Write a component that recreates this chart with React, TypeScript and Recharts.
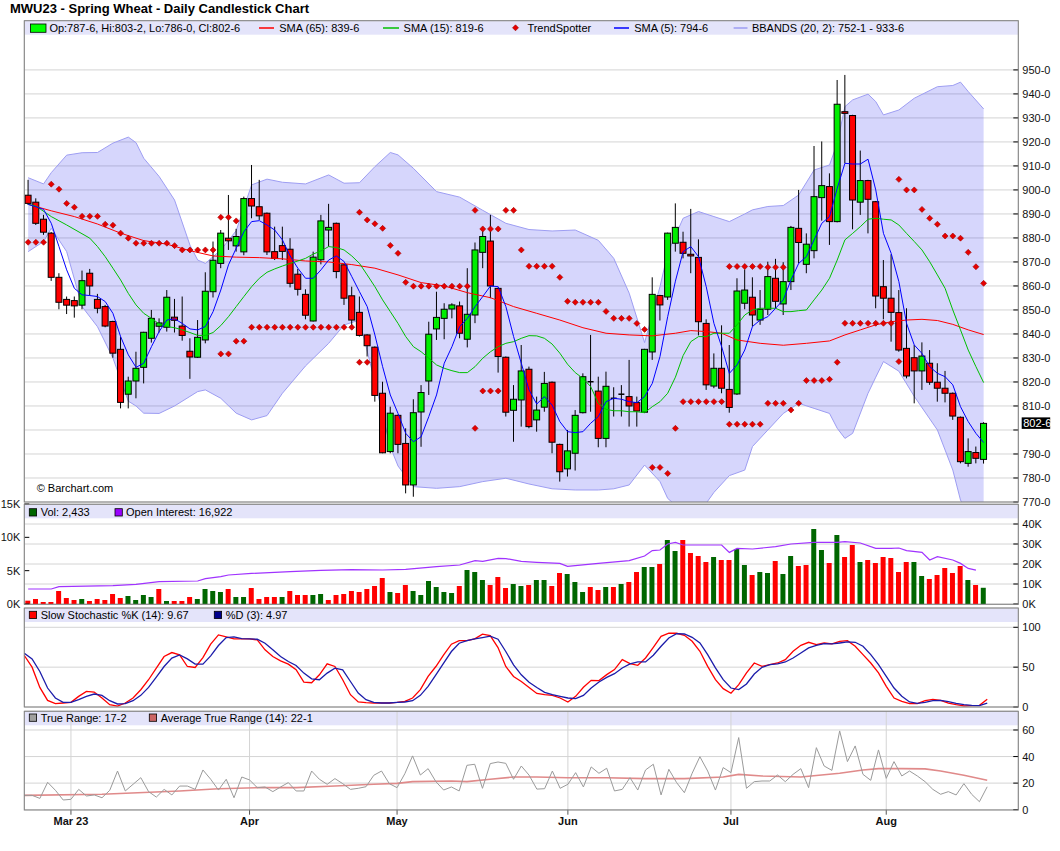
import React from 'react';
import { ComposedChart, Bar, Line, Area, XAxis, YAxis, CartesianGrid, ReferenceLine, Cell } from 'recharts';

const FONT = '"Liberation Sans", Arial, Helvetica, sans-serif';
const W = 1060;
const PLOT_L = 24.3;
const PLOT_R = 1018.3;
const AXIS_W = W - PLOT_R;

// ---------- categories / ticks ----------
const monthTicks = [6, 29, 48, 70, 91, 111];
const monthLabels = ['Mar 23', 'Apr', 'May', 'Jun', 'Jul', 'Aug'];
const priceTicks = [770, 780, 790, 800, 810, 820, 830, 840, 850, 860, 870, 880, 890, 900, 910, 920, 930, 940, 950];
const volTicks = [0, 5000, 10000, 15000];
const oiTicks = [0, 10000, 20000, 30000, 40000];
const stochTicks = [0, 50, 100];
const trTicks = [0, 20, 40, 60];
const lastClose = 802.75;

// ---------- OHLC ----------
const openP = [
  897.8, 894.9, 887.8, 882, 863.6, 854.4, 853.9, 852, 865.3, 854.4,
  851.4, 845.2, 833.6, 814.9, 820.4, 826.1, 838.2, 843.2, 842.8, 847,
  843.3, 832.8, 830.3, 837.5, 857.6, 869.4, 879.9, 876.7, 874.2, 896.4,
  893, 890.3, 874.3, 876.8, 875.3, 864.9, 856.5, 845.4, 870.9, 883.3,
  886.1, 868.8, 855.9, 849, 839.6, 834.5, 815.3, 791, 806.1, 794.4,
  777.1, 807.5, 820.4, 842.1, 846.5, 850.4, 851.7, 837.8, 847.9, 874,
  878.7, 859, 830.3, 808.2, 812.5, 825.3, 804.2, 809.5, 819.9, 794,
  783.8, 790.3, 807.2, 820.1, 816.2, 796.5, 813.2, 814.9, 813.9, 811.4,
  807.4, 832.5, 856, 855.4, 877.8, 878.2, 873.2, 871.9, 844.4, 818.3,
  825.7, 816.9, 815, 852.8, 855.3, 845.8, 850.3, 863.2, 852.5, 861.8,
  884, 869, 874.7, 896.8, 901.4, 886.8, 932.6, 931, 894.9, 903.9,
  895.1, 859.7, 854.9, 848.9, 834, 830.1, 824.6, 827.8, 819.9, 817.4,
  815.3, 805.3, 786.1, 790.6, 787.75,
];
const highP = [
  904.2, 896.5, 889.6, 882.5, 865.3, 855.6, 855.6, 866.4, 867.1, 856.7,
  852.1, 845.5, 838.9, 822.2, 832.6, 840.9, 850, 846.5, 858.3, 854.6,
  855.6, 838.2, 845.8, 865.7, 878.5, 883.3, 897.9, 883.8, 897.2, 910.4,
  904.2, 890.6, 884.7, 884.7, 879.9, 867.1, 858.6, 874.3, 889.6, 894.2,
  886.4, 869.1, 859.7, 855.6, 839.9, 834.8, 820.1, 809.7, 806.4, 800.7,
  812.8, 818.7, 845.1, 857.6, 852.8, 852.8, 853.5, 867.4, 878.1, 883.3,
  889.6, 859.3, 830.6, 818.7, 835.4, 826.4, 813.9, 824.2, 820.2, 794.3,
  800, 808.3, 823.6, 839.6, 822.2, 824.3, 817.8, 818.7, 829.2, 813.9,
  833.8, 863.6, 856.3, 882.2, 894.4, 882.6, 892.1, 879.4, 846.1, 831.9,
  843.6, 835.4, 863.2, 866.9, 863.6, 858.3, 870.1, 871.3, 869.9, 885,
  900, 881.9, 918.3, 920.2, 906.9, 945.8, 947.9, 931.3, 916.4, 904.2,
  895.4, 870.8, 873.2, 858.3, 850.7, 835.4, 836.5, 833.3, 827.8, 824.6,
  815.6, 805.6, 796.5, 793.1, 803.25,
];
const lowP = [
  893.7, 885.4, 881.3, 862.1, 850.3, 848.3, 846.8, 850.3, 856, 848.6,
  842.8, 830.1, 809, 809, 813.2, 819.4, 836.4, 840.6, 841, 840.6,
  837.2, 821.3, 830, 836.1, 855.2, 867.4, 875, 874.3, 872.8, 888.2,
  887.5, 872.9, 870.8, 870.8, 859.4, 856, 846.1, 845.2, 869, 876.4,
  863.2, 852.1, 842.4, 838.9, 830.6, 811.8, 790.3, 790.3, 790.3, 773.6,
  772.2, 793, 814.6, 837.5, 837.8, 846.5, 838.2, 834.4, 844.5, 867.4,
  854.9, 823.9, 805.6, 795.1, 801.4, 800.7, 799.3, 807.6, 790.3, 778.5,
  780.6, 783.1, 806.9, 807.6, 792.8, 792.8, 805.6, 805.6, 801.4, 801.4,
  807.2, 829.2, 845.6, 854.2, 874.3, 871.5, 865.3, 839.4, 816.7, 817.4,
  815.3, 807.2, 814.6, 850.3, 843.1, 843.8, 847.9, 850.7, 847.9, 858.3,
  869.4, 865.3, 871.5, 887.2, 877.1, 886.5, 911.1, 883.6, 889.6, 881.9,
  850.7, 846.1, 836.8, 832.6, 821.5, 811.1, 816.7, 818.8, 811.8, 811.5,
  804.2, 786.1, 784.7, 786.1, 786,
];
const closeP = [
  894.4, 886.1, 882.4, 863.6, 853.2, 852, 851.7, 862.2, 860, 850.7,
  843.3, 832, 811.5, 820.4, 825.7, 840.7, 846.5, 844.6, 855.3, 845.7,
  839.4, 830.4, 838.6, 857.8, 870.7, 882, 878.8, 880.6, 896.4, 893.3,
  889.2, 874.2, 871.5, 874.4, 861.1, 858.6, 847.8, 872, 887.1, 884.4,
  866, 854.9, 845.8, 839.4, 835.1, 814.4, 790.5, 807, 794, 777.1,
  807.2, 815.6, 839.9, 846.9, 850.3, 852.1, 840.3, 848.2, 875, 880.6,
  860, 830.6, 807.4, 812.8, 824.6, 801.4, 808.3, 819.4, 794.9, 782.6,
  791.3, 806.1, 822.2, 820.1, 796.5, 818.2, 813.2, 814.9, 810, 807.9,
  833.6, 856.5, 852.1, 882, 884.4, 873.6, 872.5, 845.1, 818.8, 825.7,
  817.4, 809.4, 857.9, 858.3, 847.9, 850.3, 863.9, 853.6, 861.8, 884.4,
  878.1, 877.4, 897.2, 901.8, 886.8, 935.7, 931.9, 895.8, 903.9, 896.1,
  855.8, 854.9, 849, 833.3, 822.5, 824.6, 830.8, 819.9, 817.4, 815.3,
  805.8, 786.8, 791, 788.2, 802.75,
];

// ---------- moving averages ----------
const sma5 = [
  894, 893, 891.9, 886.1, 876.4, 866.7, 859, 856.3, 856, 855.6,
  853.5, 848.6, 838.9, 831.3, 826.1, 827.8, 834.7, 841, 845.8, 846.3,
  844.4, 842.1, 841.7, 843.1, 849.3, 858.3, 868.8, 875.7, 882.6, 886.8,
  887.2, 885.4, 883.3, 879.2, 872.5, 867.4, 863.2, 863.2, 866.7, 870.8,
  872.5, 870.2, 863.9, 857.6, 851.4, 839.6, 826.4, 814.6, 806.9, 798.6,
  795.1, 797.2, 805.6, 814.6, 827.8, 834.7, 843.1, 846.5, 851.4, 855.6,
  860, 859.7, 851.4, 838.9, 827.8, 816.7, 810.8, 813.9, 810.4, 803.5,
  799.3, 798.9, 799.3, 802.8, 805.6, 811.8, 813.2, 812.8, 811.8, 811.4,
  813.9, 819.4, 830.6, 847.2, 862, 874.3, 876.4, 872.2, 859.7, 844.4,
  834.7, 823.6, 827.1, 833.3, 843.1, 845.8, 847.2, 850.7, 854.2, 862.5,
  869.4, 872.2, 879.2, 886.1, 888.9, 900.7, 911.1, 910.8, 910.8, 912.8,
  900, 881.9, 873.6, 861.8, 844.4, 835.4, 831.9, 826.4, 823.6, 822.2,
  818.8, 809.7, 803.5, 798.6, 794.75,
];
const sma15Pts = [
  [0, 894], [1, 893.3], [3, 888.9], [5, 885.4], [8, 879.9], [9, 876.4], [10, 872.2], [11, 867.4], [12, 862.5],
  [13, 856.9], [14, 852.1], [15, 848.6], [16, 846.5], [17, 844.2], [18, 843.1], [19, 842.6], [20, 841.7],
  [21, 840.6], [22, 839.4], [23, 839.4], [24, 840.6], [25, 843.5], [26, 847.2], [27, 851.4], [28, 855.6],
  [29, 859.7], [30, 863.2], [31, 865.7], [32, 867.1], [33, 868.3], [34, 869.4], [35, 870.4], [36, 871.5],
  [37, 873.3], [38, 874.6], [39, 876.4], [40, 876], [41, 875], [42, 872.5], [43, 869.4], [44, 864.6],
  [45, 859.7], [46, 854.2], [47, 849.3], [48, 844.4], [49, 838.9], [50, 834.7], [51, 832.6], [52, 829.9],
  [53, 827.1], [54, 825.7], [55, 824.7], [56, 823.9], [57, 823.9], [58, 826.4], [59, 829.9], [60, 832.6],
  [61, 834.7], [62, 836.1], [63, 836.8], [64, 838.2], [65, 839.3], [66, 839.2], [67, 838.2], [68, 835.8],
  [69, 832], [70, 827.4], [71, 823.9], [72, 821.5], [73, 818.1], [74, 811.1], [75, 808.6], [76, 808],
  [77, 808], [78, 807.6], [79, 807.6], [80, 807.2], [81, 809.7], [82, 811.8], [83, 815.3], [84, 822],
  [85, 831], [86, 836.8], [87, 838.9], [88, 838.9], [89, 840.3], [90, 840.3], [91, 840.3], [92, 843.8],
  [93, 847.9], [94, 850], [95, 850.7], [96, 850.7], [97, 850.7], [98, 849.3], [99, 849.3], [100, 849.7],
  [101, 850], [102, 854.2], [103, 858.3], [104, 863.2], [105, 870.8], [106, 879.2], [107, 881.9], [108, 884.7],
  [109, 887.8], [110, 888.2], [111, 887.8], [112, 887.5], [113, 885.4], [114, 881.9], [115, 878.5], [116, 875],
  [117, 870.1], [118, 864.6], [119, 859], [120, 850], [121, 841.7], [122, 833.3], [123, 826.4], [124, 819.75],
];
const sma65Pts = [
  [0, 894], [3, 891.3], [6, 888.9], [9, 885.8], [12, 882], [15, 878.9], [18, 877.4], [21, 874.7], [24, 872.5],
  [27, 872], [30, 871.8], [33, 871.3], [36, 870.4], [39, 870], [42, 868.9], [45, 867.4], [48, 864.6], [51, 861.4],
  [54, 860], [57, 857.2], [60, 855.1], [63, 851.4], [66, 848.6], [69, 845.8], [72, 842.6], [75, 840.3], [78, 839.6],
  [81, 839.2], [84, 840.3], [86, 841.4], [88, 841], [90, 840.3], [92, 837.5], [95, 836.1], [98, 835.3], [101, 836.1],
  [104, 837.1], [106, 839.6], [108, 841.7], [110, 843.8], [112, 845.1], [114, 845.8], [116, 846.1], [118, 845.6],
  [120, 844], [122, 841.7], [124, 839.75],
];
// Bollinger bands: [index, lower, upper]
const bbPts = [
  [0, 874.3, 905.1], [2, 878.5, 902.5], [3, 884, 907.2], [5, 874.3, 914.5], [7, 851.4, 915.5], [9, 843, 915.6],
  [11, 830, 919.5], [13, 812, 922], [14, 810, 919.7], [15, 807, 913.2], [17, 806.9, 905.6], [19, 810, 895.8],
  [21, 814, 877], [22, 816, 870.8], [23, 816.7, 869.4], [25, 813.2, 875], [27, 807, 883], [29, 804.2, 902.1],
  [31, 806, 904.5], [33, 815.3, 903.2], [36, 826.7, 902.5],
  [39, 836.1, 906.25], [41, 843.75, 902.8], [43, 845.8, 903], [45, 820, 909.7], [47, 793, 915.6], [48, 785, 914.6],
  [50, 776.4, 909], [53, 775.7, 899.3], [56, 776.4, 897], [59, 778.5, 891.5], [62, 779.9, 886.1], [65, 777.5, 883.5],
  [68, 775.5, 882.9], [71, 775, 883.3], [74, 775, 879], [76, 775.5, 871.5], [78, 777.1, 857], [80, 785.4, 836.4],
  [82, 778.5, 859.7], [83, 771.5, 873.6], [85, 766, 888.2], [87, 765, 891], [89, 774, 888.9], [91, 781, 886.8],
  [93, 783.3, 890], [94, 793.1, 891.7], [96, 800, 893.1], [98, 806.9, 893.5], [100, 811.1, 897.9], [102, 809, 908.3],
  [104, 806.9, 910.4], [105, 800.7, 919.4], [106, 796.5, 934.7], [107, 798.6, 937.5], [109, 815.3, 939.9],
  [110, 822, 936.8], [111, 828.5, 931.25], [113, 824.5, 933.3], [115, 814, 938.2], [118, 800, 943], [120, 783.3, 943.5],
  [121, 770.8, 944.9], [122, 765, 941], [124, 752.1, 933.75],
];
// TrendSpotter markers
const tsMainPts = [
  [0, 878.2], [1, 878.2], [2, 878.2], [3, 902.4], [4, 900.3], [5, 894.4], [6, 892.8], [7, 889], [8, 889], [9, 889],
  [10, 885.7], [11, 885.3], [12, 882], [13, 879.9], [14, 877.8], [15, 877.8], [16, 877.8], [17, 877.8], [18, 877.8],
  [19, 876.8], [20, 875], [21, 875], [22, 875], [23, 875], [24, 875], [25, 888.6], [26, 888.6], [27, 887.1],
  [29, 842.8], [30, 842.8], [31, 842.8], [32, 842.8], [33, 842.8], [34, 842.8], [35, 842.8], [36, 842.8],
  [37, 842.8], [38, 842.8], [39, 842.8], [40, 842.8], [41, 842.8], [42, 842.8],
  [43, 890.7], [44, 887.5], [45, 885.9], [46, 884], [47, 876.9], [48, 873.6], [49, 861.5],
  [50, 859.9], [51, 859.9], [52, 859.9], [53, 859.9], [54, 859.9], [55, 859.9], [56, 859.9], [57, 859.9],
  [58, 891.5], [59, 883.75], [60, 883.75], [61, 883.75], [62, 891.5], [63, 891.5], [64, 875],
  [65, 868.2], [66, 868.2], [67, 868.2], [68, 868.2], [69, 863.6], [70, 853.6], [71, 853.2], [72, 853.2],
  [73, 853.2], [74, 853.2], [75, 849.4], [76, 846.5], [77, 846.5], [78, 846.5], [79, 844.4], [80, 841.9],
  [81, 784.4], [82, 784.4], [83, 781.9], [84, 800.7], [85, 811.8], [86, 811.8], [87, 811.8], [88, 811.8],
  [89, 811.8], [90, 811.8], [91, 868.1], [92, 868.1], [93, 868.1], [94, 868.1], [95, 868.1], [96, 867.8],
  [97, 867.8], [98, 867.8], [99, 808.3], [100, 811.1], [101, 820.6], [102, 820.6], [103, 820.6], [104, 821.1],
  [105, 828.2], [106, 844.45], [107, 844.45], [108, 844.45], [109, 844.45], [110, 844.45], [111, 844.45],
  [112, 844.45], [113, 904.4], [114, 900], [115, 900], [116, 891.9], [117, 888.2], [118, 885.7], [119, 880.8],
  [120, 880.8], [121, 879.9], [122, 874], [123, 868], [124, 861.1],
];
const tsAltPts = [
  [25, 831.7], [26, 831.7], [27, 837], [28, 837], [43, 828.2], [44, 828.2], [58, 800.7], [59, 816.25],
  [60, 816.25], [61, 816.25], [91, 802.4], [92, 802.4], [93, 802.4], [94, 802.4], [95, 802.4], [96, 811.1],
  [97, 811.1], [98, 811.1], [113, 828.5],
];

// ---------- volume / open interest ----------
const volK = [
  0.5, 0.75, 0.3, 0.3, 1.95, 0.9, 0.6, 0.75, 0.45, 0.75,
  0.6, 1.5, 0.9, 1.2, 0.6, 1.35, 1.05, 2.25, 0.45, 0.45,
  0.45, 1.05, 0.75, 2.25, 1.95, 1.8, 2.25, 1.05, 1.05, 2.4,
  0.75, 1.05, 1.05, 1.05, 1.95, 1.35, 1.35, 1.35, 1.5, 0.6,
  1.35, 1.5, 1.95, 1.8, 2.25, 2.7, 3.9, 1.8, 1.65, 2.85,
  1.95, 1.35, 3.45, 2.55, 1.8, 1.65, 2.7, 5.1, 4.8, 3.6,
  2.85, 4.05, 2.4, 3.0, 2.7, 2.85, 3.6, 3.6, 2.7, 4.65,
  4.5, 3.3, 1.8, 2.55, 2.1, 2.55, 2.55, 3.0, 3.3, 4.8,
  5.55, 5.55, 6.0, 9.6, 7.95, 9.6, 7.65, 7.2, 6.3, 7.05,
  6.6, 6.6, 8.25, 5.85, 4.35, 4.8, 4.65, 6.45, 4.5, 7.2,
  5.7, 5.85, 11.25, 8.1, 6.15, 10.35, 7.05, 8.85, 6.3, 6.6,
  6.15, 7.05, 6.9, 4.8, 6.3, 6.3, 4.2, 3.75, 4.35, 5.4,
  4.65, 5.7, 3.6, 2.85, 2.433,
];
const volDir = (
  'dddddddudd' + 'ddduuuudud' + 'dduuuuduud' + 'ddduddduud' + 'dddddddudd' +
  'uuuuuuduuu' + 'ddduuduudd' + 'uuuddududd' + 'uuduuddddu' + 'dduuduuduu' +
  'dduududdud' + 'ddddduuddd' + 'ddudu'
).split('');
const oiPts = [
  [0, 7.5], [3, 7.5], [4, 8.7], [11, 9.2], [14, 9.8], [17, 11.2], [22, 11.5], [23, 12.7], [25, 13.7], [26, 14.5],
  [29, 15.3], [34, 16.2], [38, 16.8], [42, 17.2], [46, 17], [49, 17.3], [53, 18.7], [56, 19.5], [58, 21.7], [59, 21.3],
  [61, 22.8], [62, 22.7], [64, 21.3], [66, 20.8], [69, 20.3], [70, 18.8], [74, 20.3], [78, 21.7], [80, 24], [81, 26.7],
  [82, 27], [83, 30], [84, 30.8], [85, 29.5], [90, 29.5], [91, 25.8], [92, 27.8], [94, 27.5], [97, 28.7], [99, 30],
  [102, 30.8], [105, 30.8], [106, 31.2], [108, 30.5], [110, 27.8], [112, 27.8], [113, 28], [114, 26.7], [116, 25.8],
  [117, 22], [118, 23.7], [120, 22], [121, 20.3], [122, 17.8], [123, 16.922],
];

// ---------- slow stochastic ----------
const stochK = [
  64.6, 50, 24.6, 8.3, 4.2, 5, 5.8, 13.3, 19.6, 18.8,
  11.3, 2.9, 1.2, 5, 11.3, 21.7, 34.2, 48.8, 63.3, 68.3,
  65.4, 50.8, 49.6, 62, 78.8, 90.4, 87.9, 85.4, 85.4, 85.4,
  84.2, 71.7, 63.3, 57.9, 53.8, 46.7, 31.3, 30.4, 40.4, 54.2,
  50.8, 34.2, 15.4, 6.3, 5.4, 5, 5, 5, 5.8, 7.1,
  11.3, 21.7, 38.3, 50.8, 65.4, 78.8, 83.3, 83.3, 85.4, 91.3,
  89.6, 74.6, 50.8, 38.3, 32, 24.5, 17, 15.5, 14.6, 11.3,
  6.3, 13.4, 24.7, 33.5, 33.1, 40.6, 46.9, 59.4, 54.4, 52.3,
  61.5, 74.9, 88.7, 92.5, 92.5, 90, 82.4, 69.9, 51, 34.3,
  23, 17.2, 28, 42.7, 55.2, 51, 53.1, 55.2, 59.4, 69.9,
  77.4, 81.2, 78.2, 80.3, 79.1, 82.4, 83.3, 76.2, 65.7, 55.2,
  42.7, 25.9, 11.3, 7.1, 4.2, 4.2, 7.9, 9.6, 8.4, 5,
  2.9, 1.3, 1.7, 2.1, 9.67,
];
const stochD = [
  67.5, 60.4, 44.6, 23.8, 11.3, 5.8, 5.8, 9.2, 13.3, 16.3,
  14.6, 7.9, 3.8, 4.2, 7.9, 14.6, 24.6, 37.5, 50.8, 61.3,
  65.4, 60.4, 53.8, 53.8, 64.2, 77.1, 87.1, 87.9, 85.8, 85.4,
  85, 80, 71.7, 63.3, 57.1, 52.1, 42.5, 35.4, 34.2, 42.5,
  48.8, 46.7, 32, 17.5, 9.2, 5.8, 5, 5, 5.8, 6.3,
  7.9, 14.6, 25.8, 40.4, 55, 69.6, 80, 83.3, 85.4, 87.1,
  88.8, 85, 69.6, 52.9, 40.4, 31, 24.5, 18.4, 15.5, 13.4,
  11.3, 10.5, 14.6, 23.8, 31.4, 37.2, 41.8, 49, 54, 56.5,
  56.5, 64.9, 76.2, 86.6, 92, 91.6, 87.4, 80.3, 65.7, 49,
  34.3, 23.8, 21.8, 28.9, 41.4, 49.8, 53.1, 54, 56.5, 61.5,
  67.8, 74.1, 77.4, 79.5, 79.1, 80.3, 81.6, 81.2, 76.2, 65.7,
  53.1, 38.5, 23.8, 13.4, 6.3, 4.6, 5.9, 7.9, 8.4, 6.7,
  4.6, 2.9, 2.1, 1.7, 4.97,
];

// ---------- true range ----------
const trueRange = [
  10.8, 10.8, 8.5, 20.6, 14.6, 7.3, 7.8, 15.3, 10.3, 11.1,
  9, 14.6, 29.1, 14.1, 19.1, 24.1, 13.6, 9.5, 15.3, 11.1,
  17.8, 17.8, 15.3, 29.9, 22.9, 14.8, 22.9, 9, 24.6, 22.4,
  16.6, 17.1, 13.6, 17.1, 20.4, 14.1, 14.1, 29.1, 22.9, 19.1,
  23.4, 19.6, 15.3, 16.1, 17.3, 25.9, 29.1, 19.6, 16.6, 27.1,
  40.5, 26.1, 30.9, 21.1, 14.8, 17.1, 14.1, 33.4, 34.2, 16.1,
  34.7, 35.9, 34.9, 22.9, 32.9, 26, 15.5, 15.8, 29.1, 16.1,
  19.1, 27.9, 17.1, 32.2, 27.4, 31.2, 14.1, 15.3, 24.1, 14.8,
  29.9, 34.2, 11.1, 30.4, 20.4, 12.8, 27.4, 39.9, 29.1, 14.8,
  31.7, 27.9, 54.3, 16.1, 21.1, 21.6, 21.6, 26.1, 21.1, 26.6,
  30.9, 16.6, 46.7, 32.9, 29.6, 59.3, 36.2, 48, 26.6, 22.1,
  45, 23.6, 36.2, 25.4, 29.1, 25.4, 21.1, 15.3, 11.6, 13.6,
  11.1, 19.6, 11.6, 6, 17.25,
];
const atrPts = [
  [0, 10.8], [10, 11.6], [20, 14.1], [25, 15.8], [30, 16.6], [35, 16.6], [40, 17.8], [45, 19.1], [48, 19.8],
  [50, 21.1], [55, 21.6], [57, 21.1], [60, 22.9], [63, 24.6], [66, 24.6], [70, 24.1], [75, 24.1], [80, 23.4],
  [85, 23.4], [90, 24.6], [92, 26.6], [95, 25.4], [100, 24.6], [105, 27.4], [108, 29.9], [110, 30.9],
  [113, 30.9], [116, 30.7], [118, 29.1], [121, 25.9], [124, 22.1],
];

// ---------- table for the library ----------
const PAD = 4;
const toMap = (pts: number[][]) => {
  const m = new Map<number, number[]>();
  pts.forEach((p) => m.set(p[0], p.slice(1)));
  return m;
};
const sma15M = toMap(sma15Pts);
const sma65M = toMap(sma65Pts);
const bbM = toMap(bbPts);
const tsMainM = toMap(tsMainPts);
const tsAltM = toMap(tsAltPts);
const oiM = toMap(oiPts);
const atrM = toMap(atrPts);
const pick = (m: Map<number, number[]>, i: number, k = 0) => (m.has(i) ? m.get(i)![k] : null);

const rows = Array.from({ length: openP.length + PAD }, (_, i) => {
  const has = i < openP.length;
  return {
    i,
    o: has ? openP[i] : null,
    h: has ? highP[i] : null,
    l: has ? lowP[i] : null,
    c: has ? closeP[i] : null,
    sma5: has ? sma5[i] : null,
    sma15: pick(sma15M, i),
    sma65: pick(sma65M, i),
    bbLo: pick(bbM, i, 0),
    bbHi: pick(bbM, i, 1),
    ts1: pick(tsMainM, i),
    ts2: pick(tsAltM, i),
    vol: has ? volK[i] * 1000 : null,
    up: has ? volDir[i] === 'u' : false,
    oi: pick(oiM, i) == null ? null : (pick(oiM, i) as number) * 1000,
    k: has ? stochK[i] : null,
    d: has ? stochD[i] : null,
    tr: has ? trueRange[i] : null,
    atr: pick(atrM, i),
  };
});

// ---------- helpers ----------
const fmtPrice = (v: number) => {
  const f = Math.floor(v + 1e-9);
  return `${f}-${Math.round((v - f) * 8)}`;
};
const fmtK = (v: number) => `${Math.round(v / 1000)}K`;
const fmtNum = (v: number) => `${v}`;

const AxisTick = (props: any) => {
  const { x, y, payload, side, fmt, skip } = props;
  const dir = side === 'right' ? 1 : -1;
  const v = payload.value;
  const hideLabel = skip && skip(v);
  return (
    <g>
      <line x1={x} x2={x - dir * 5} y1={y} y2={y} stroke="#000" strokeWidth={1} />
      {!hideLabel && (
        <text x={x + dir * 4} y={y} dy="0.36em" textAnchor={side === 'right' ? 'start' : 'end'}
          fontSize={11} fontFamily={FONT} fill="#111">{fmt(v)}</text>
      )}
    </g>
  );
};

const Candle = (props: any) => {
  const { x, y, width, height, payload } = props;
  if (!payload || payload.o == null) return <g />;
  const { o, h, l, c } = payload;
  const cx = x + width / 2;
  const ppu = h > l ? height / (h - l) : 0;
  const yO = y + (h - o) * ppu;
  const yC = y + (h - c) * ppu;
  const top = Math.min(yO, yC);
  const bh = Math.abs(yC - yO);
  const up = c > o;
  return (
    <g>
      <line x1={cx} x2={cx} y1={y} y2={y + height} stroke="#000" strokeWidth={1} />
      {c === o ? (
        <line x1={cx - 3} x2={cx + 3} y1={yO} y2={yO} stroke="#000" strokeWidth={1.5} />
      ) : (
        <rect x={cx - 3} y={top} width={6} height={Math.max(bh, 1.5)} fill={up ? '#00ee00' : '#ff0000'} stroke="#000" strokeWidth={1} />
      )}
    </g>
  );
};

const Diamond = (props: any) => {
  const { cx, cy, value, index } = props;
  if (value == null || cy == null || Number.isNaN(cy)) return <g key={`n${index}`} />;
  const r = 3;
  return (
    <path key={`t${index}`} d={`M${cx},${cy - r}L${cx + r},${cy}L${cx},${cy + r}L${cx - r},${cy}Z`}
      fill="#e60000" stroke="#9a0000" strokeWidth={0.6} />
  );
};

const LastLabel = (props: any) => {
  const vb = props.viewBox;
  if (!vb) return null;
  const x = vb.x + vb.width + 3.4;
  const y = vb.y;
  return (
    <g>
      <rect x={x} y={y - 6} width={28.5} height={11.5} fill="#000" />
      <text x={x + 1.5} y={y} dy="0.36em" fill="#fff" fontSize={11} fontFamily={FONT}>{fmtPrice(lastClose)}</text>
    </g>
  );
};

const hiddenX = (
  <XAxis dataKey="i" type="category" ticks={monthTicks} interval={0} height={0} tick={false} axisLine={false} tickLine={false} />
);

const GRID = '#d4d4d4';

// panel geometry
const MAIN_TOP = 20.7, MAIN_BOT = 502;
const VOL_TOP = 504.3, VOL_BOT = 604.3;
const ST_TOP = 608, ST_BOT = 707;
const TR_TOP = 711.3, TR_BOT = 810;
const BAND_H = 14;
const panels = [[MAIN_TOP, MAIN_BOT], [VOL_TOP, VOL_BOT], [ST_TOP, ST_BOT], [TR_TOP, TR_BOT]];

const Sq = ({ x, y, fill, w = 7.3, h = 7.3 }: any) => (
  <rect x={x} y={y} width={w} height={h} fill={fill} stroke="#000" strokeWidth={0.8} />
);
const T = ({ x, y, children, size = 11, weight = 'normal' }: any) => (
  <text x={x} y={y} fontSize={size} fontFamily={FONT} fontWeight={weight} fill="#000">{children}</text>
);

export default function App() {
  const abs: React.CSSProperties = { position: 'absolute', left: 0 };
  return (
    <div style={{ position: 'absolute', left: 0, top: 0, width: W, height: 851, background: '#fff', fontFamily: FONT }}>
      <style>{'.recharts-surface{overflow:visible}'}</style>
      {/* legend bands (behind grid) */}
      <svg width={W} height={851} style={{ ...abs, top: 0 }}>
        {panels.map(([t], k) => (
          <rect key={k} x={PLOT_L} y={t} width={PLOT_R - PLOT_L} height={BAND_H} fill="#e4e4fa" />
        ))}
      </svg>

      {/* main price panel */}
      <div style={{ ...abs, top: 0 }}>
        <ComposedChart width={W} height={MAIN_BOT} data={rows} margin={{ top: MAIN_TOP, right: 0, bottom: 0, left: PLOT_L }}>
          <CartesianGrid stroke={GRID} />
          {hiddenX}
          <YAxis orientation="right" width={AXIS_W} domain={[770, 970.5]} ticks={priceTicks} interval={0} allowDataOverflow
            axisLine={false} tickLine={false} tickSize={0} tickMargin={0}
            tick={(p: any) => <AxisTick {...p} side="right" fmt={fmtPrice} skip={(v: number) => Math.abs(v - lastClose) < 5} />} />
          <Area dataKey={(d: any) => (d.bbHi == null ? null : [d.bbLo, d.bbHi])} type="linear" connectNulls
            stroke="#9d9df2" strokeWidth={1} fill="#3333ee" fillOpacity={0.2} isAnimationActive={false} activeDot={false} />
          <Line dataKey="sma65" type="linear" stroke="#ff0000" strokeWidth={1} dot={false} connectNulls isAnimationActive={false} activeDot={false} />
          <Line dataKey="sma15" type="linear" stroke="#00c000" strokeWidth={1} dot={false} connectNulls isAnimationActive={false} activeDot={false} />
          <Line dataKey="sma5" type="linear" stroke="#0000ff" strokeWidth={1} dot={false} connectNulls isAnimationActive={false} activeDot={false} />
          <Bar dataKey={(d: any) => (d.h == null ? null : [d.l, d.h])} shape={Candle} isAnimationActive={false} />
          <Line dataKey="ts1" stroke="none" dot={Diamond} activeDot={false} isAnimationActive={false} />
          <Line dataKey="ts2" stroke="none" dot={Diamond} activeDot={false} isAnimationActive={false} />
          <ReferenceLine y={lastClose} stroke="none" label={LastLabel} />
        </ComposedChart>
      </div>

      {/* volume / open interest */}
      <div style={{ ...abs, top: VOL_TOP }}>
        <ComposedChart width={W} height={VOL_BOT - VOL_TOP} data={rows} margin={{ top: 0, right: 0, bottom: 0, left: 0 }}>
          <CartesianGrid stroke={GRID} yAxisId="oi" />
          {hiddenX}
          <YAxis yAxisId="vol" orientation="left" width={PLOT_L} domain={[0, 15000]} ticks={volTicks} interval={0}
            axisLine={false} tickLine={false} tickSize={0} tickMargin={0}
            tick={(p: any) => <AxisTick {...p} side="left" fmt={fmtK} />} />
          <YAxis yAxisId="oi" orientation="right" width={AXIS_W} domain={[0, 50000]} ticks={oiTicks} interval={0}
            axisLine={false} tickLine={false} tickSize={0} tickMargin={0}
            tick={(p: any) => <AxisTick {...p} side="right" fmt={fmtK} />} />
          <Bar yAxisId="vol" dataKey="vol" barSize={5} isAnimationActive={false}>
            {rows.map((r) => (
              <Cell key={r.i} fill={r.up ? '#006600' : '#ff0000'} />
            ))}
          </Bar>
          <Line yAxisId="oi" dataKey="oi" type="linear" stroke="#a033ff" strokeWidth={1.2} dot={false} connectNulls isAnimationActive={false} activeDot={false} />
        </ComposedChart>
      </div>

      {/* slow stochastic */}
      <div style={{ ...abs, top: ST_TOP }}>
        <ComposedChart width={W} height={ST_BOT - ST_TOP} data={rows} margin={{ top: 0, right: 0, bottom: 0, left: PLOT_L }}>
          <CartesianGrid stroke={GRID} />
          {hiddenX}
          <YAxis orientation="right" width={AXIS_W} domain={[0, 124.2]} ticks={stochTicks} interval={0}
            axisLine={false} tickLine={false} tickSize={0} tickMargin={0}
            tick={(p: any) => <AxisTick {...p} side="right" fmt={fmtNum} />} />
          <Line dataKey="k" type="linear" stroke="#ff0000" strokeWidth={1.3} dot={false} isAnimationActive={false} activeDot={false} />
          <Line dataKey="d" type="linear" stroke="#1c1caa" strokeWidth={1.3} dot={false} isAnimationActive={false} activeDot={false} />
        </ComposedChart>
      </div>

      {/* true range */}
      <div style={{ ...abs, top: TR_TOP }}>
        <ComposedChart width={W} height={TR_BOT - TR_TOP + 26} data={rows} margin={{ top: 0, right: 0, bottom: 0, left: PLOT_L }}>
          <CartesianGrid stroke={GRID} />
          <XAxis dataKey="i" type="category" ticks={monthTicks} interval={0} height={26} axisLine={false}
            tickLine={{ stroke: '#555' }} tickSize={5} tickMargin={3}
            tickFormatter={(v: any) => monthLabels[monthTicks.indexOf(Number(v))] || ''}
            tick={{ fontSize: 11, fontWeight: 'bold', fill: '#111', fontFamily: FONT }} />
          <YAxis orientation="right" width={AXIS_W} domain={[0, 74.3]} ticks={trTicks} interval={0}
            axisLine={false} tickLine={false} tickSize={0} tickMargin={0}
            tick={(p: any) => <AxisTick {...p} side="right" fmt={fmtNum} />} />
          <Line dataKey="atr" type="linear" stroke="#e08a8a" strokeWidth={1.6} dot={false} connectNulls isAnimationActive={false} activeDot={false} />
          <Line dataKey="tr" type="linear" stroke="#9a9a9a" strokeWidth={1} dot={false} isAnimationActive={false} activeDot={false} />
        </ComposedChart>
      </div>

      {/* frames, title, legends */}
      <svg width={W} height={851} style={{ ...abs, top: 0, pointerEvents: 'none' }}>
        <T x={10} y={12.6} size={13} weight="bold">MWU23 - Spring Wheat - Daily Candlestick Chart</T>
        {panels.map(([t, b], k) => (
          <rect key={k} x={PLOT_L} y={t} width={PLOT_R - PLOT_L} height={b - t} fill="none" stroke="#808080" strokeWidth={1} />
        ))}
        {/* main legend */}
        <Sq x={30.4} y={24} w={15.6} h={8.3} fill="#00ff00" />
        <T x={49.4} y={31.6}>Op:787-6, Hi:803-2, Lo:786-0, Cl:802-6</T>
        <line x1={259} x2={274} y1={28} y2={28} stroke="#ff0000" strokeWidth={1.5} />
        <T x={279.2} y={31.6}>SMA (65): 839-6</T>
        <line x1={383} x2={399} y1={28} y2={28} stroke="#00c000" strokeWidth={1.5} />
        <T x={403.6} y={31.6}>SMA (15): 819-6</T>
        <path d="M515.5,24.8L518.5,27.8L515.5,30.8L512.5,27.8Z" fill="#e60000" stroke="#9a0000" strokeWidth={0.6} />
        <T x={527.4} y={31.6}>TrendSpotter</T>
        <line x1={614} x2={629} y1={28} y2={28} stroke="#0000ff" strokeWidth={1.5} />
        <T x={634.2} y={31.6}>SMA (5): 794-6</T>
        <line x1={733.6} x2={747.5} y1={28} y2={28} stroke="#9d9df2" strokeWidth={1.5} />
        <T x={751.9} y={31.6}>BBANDS (20, 2): 752-1 - 933-6</T>
        <T x={36.7} y={492.2}>© Barchart.com</T>
        {/* volume legend */}
        <Sq x={29.3} y={508.7} fill="#006600" />
        <T x={40.7} y={516.2}>Vol: 2,433</T>
        <Sq x={115} y={508.7} fill="#9900ff" />
        <T x={126} y={516.2}>Open Interest: 16,922</T>
        {/* stochastic legend */}
        <Sq x={29.3} y={611.3} fill="#ff0000" />
        <T x={40.7} y={619}>Slow Stochastic %K (14): 9.67</T>
        <Sq x={214.3} y={611.3} fill="#00008b" />
        <T x={225.7} y={619}>%D (3): 4.97</T>
        {/* true range legend */}
        <Sq x={29.3} y={714} fill="#a0a0a0" />
        <T x={40.7} y={722}>True Range: 17-2</T>
        <Sq x={149.3} y={714} fill="#cc6666" />
        <T x={160.7} y={722}>Average True Range (14): 22-1</T>
      </svg>
    </div>
  );
}
